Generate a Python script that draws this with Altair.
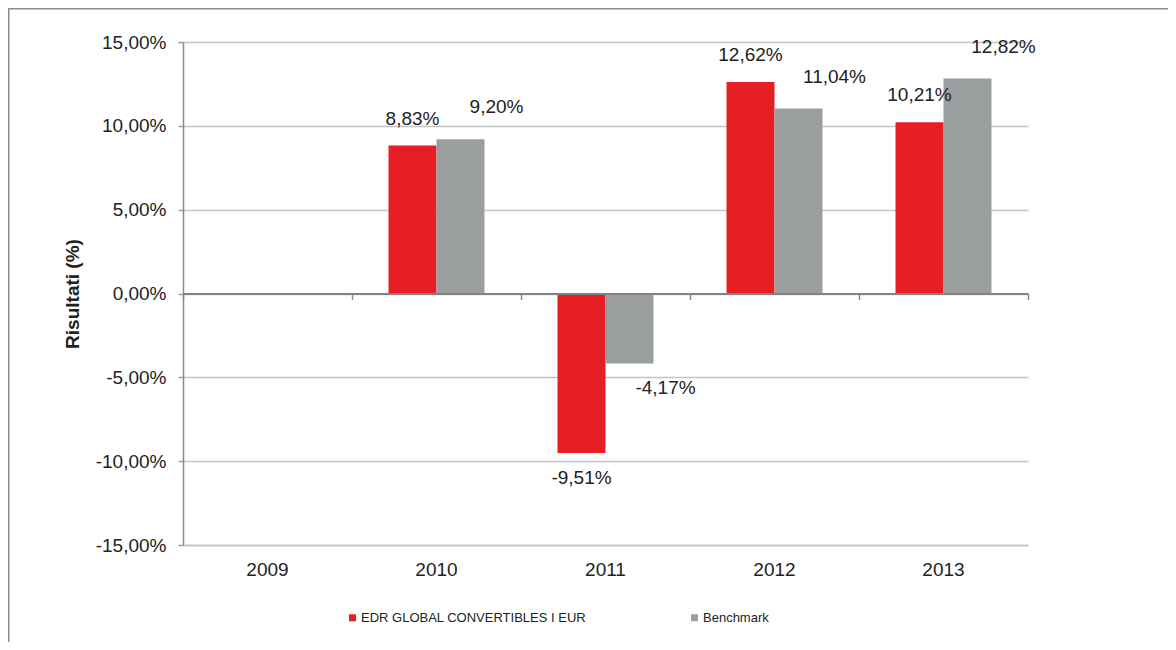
import altair as alt
import pandas as pd

years = ["2009", "2010", "2011", "2012", "2013"]
series = ["EDR GLOBAL CONVERTIBLES I EUR", "Benchmark"]
fund_values = [None, 8.83, -9.51, 12.62, 10.21]
bench_values = [None, 9.20, -4.17, 11.04, 12.82]
colors = ["#E81E25", "#9B9E9E"]
y_ticks = [-15, -10, -5, 0, 5, 10, 15]


def fmt(v):
    if v is None:
        return None
    return f"{v:.2f}".replace(".", ",") + "%"


rows = []
for yr, f, b in zip(years, fund_values, bench_values):
    rows.append({"year": yr, "series": series[0], "value": f, "label": fmt(f)})
    rows.append({"year": yr, "series": series[1], "value": b, "label": fmt(b)})
df = pd.DataFrame(rows)

W, H = 845, 503
FONT = "Liberation Sans"
TXT = "#222222"

x_scale = alt.Scale(domain=years, paddingInner=0.432, paddingOuter=0.216)
x_scale_flat = alt.Scale(domain=years, paddingInner=0, paddingOuter=0)
xo_scale = alt.Scale(domain=series)
y_scale = alt.Scale(domain=[-15, 15], nice=False, zero=False)

y_axis = alt.Axis(values=y_ticks, grid=True, gridColor="#c4c4c4", gridWidth=1.5,
                  domainColor="#8a8a8a", domainWidth=1.5, tickColor="#9a9a9a",
                  tickSize=5, tickWidth=1.5, labelFontSize=19, labelColor=TXT,
                  labelPadding=12,
                  labelExpr="(datum.value < 0 ? '-' : '') + replace(format(abs(datum.value), '.2f'), '.', ',') + '%'",
                  title="Risultati (%)", titleFontSize=19, titleFontWeight="bold",
                  titleColor=TXT, titleX=-111, titleY=H / 2, titleAngle=-90,
                  titleAlign="center", titleBaseline="middle")

base = alt.Chart(df)

bars = base.mark_bar(strokeWidth=0).encode(
    x=alt.X("year:N", scale=x_scale, sort=years,
            axis=alt.Axis(title=None, orient="bottom", ticks=False, labelFontSize=19,
                          labelColor=TXT, labelPadding=15, labelAngle=0,
                          domainColor="#c4c4c4", domainWidth=1.5, grid=False)),
    xOffset=alt.XOffset("series:N", scale=xo_scale, sort=series),
    y=alt.Y("value:Q", scale=y_scale, axis=y_axis),
    color=alt.Color("series:N", scale=alt.Scale(domain=series, range=colors), sort=series,
                    legend=alt.Legend(orient="none", legendX=163, legendY=569,
                                      direction="horizontal", title=None,
                                      symbolType="square", symbolSize=49,
                                      symbolStrokeWidth=0, labelFontSize=13,
                                      labelColor=TXT, columnPadding=101, labelOffset=2,
                                      labelLimit=0, padding=0)),
)

# zero line with category-boundary ticks (an x axis moved up to y=0)
zero_axis = base.mark_bar(opacity=0).encode(
    x=alt.X("year:N", scale=x_scale_flat, sort=years,
            axis=alt.Axis(title=None, orient="bottom", offset=-(H / 2), labels=False,
                          ticks=True, tickBand="extent", tickSize=6, tickColor="#8a8a8a",
                          tickWidth=1.5, domainColor="#808383", domainWidth=2, grid=False,
                          zindex=1)),
    y=alt.Y("value:Q", scale=y_scale),
)

fund_text = base.transform_filter(
    alt.datum.series == series[0]
).transform_filter("isValid(datum.value)").transform_calculate(
    ly="datum.value + (datum.value < 0 ? -1.5 : 1.6)"
).mark_text(fontSize=19, color=TXT, baseline="middle", font=FONT).encode(
    x=alt.X("year:N", scale=x_scale, sort=years, axis=None),
    xOffset=alt.XOffset("series:N", scale=xo_scale, sort=series),
    y=alt.Y("ly:Q", scale=y_scale),
    text="label:N",
)

bench_text = base.transform_filter(
    alt.datum.series == series[1]
).transform_filter("isValid(datum.value)").transform_calculate(
    ly="datum.value + (datum.value < 0 ? -1.45 : 1.9)"
).mark_text(fontSize=19, color=TXT, baseline="middle", dx=36, font=FONT).encode(
    x=alt.X("year:N", scale=x_scale, sort=years, axis=None),
    xOffset=alt.XOffset("series:N", scale=xo_scale, sort=series),
    y=alt.Y("ly:Q", scale=y_scale),
    text="label:N",
)

one = pd.DataFrame({"a": [0]})
frame_left = alt.Chart(one).mark_rule(color="#8c8c8c", strokeWidth=1.5).encode(
    x=alt.value(-174.25), y=alt.value(-33.5), y2=alt.value(H + 97)
)
frame_top = alt.Chart(one).mark_rule(color="#8c8c8c", strokeWidth=1.5).encode(
    x=alt.value(-175), x2=alt.value(W + 140), y=alt.value(-33.25)
)

chart = alt.layer(
    bars, zero_axis, fund_text, bench_text, frame_left, frame_top
).resolve_scale(x="independent").resolve_axis(x="independent").properties(
    width=W, height=H,
    autosize=alt.AutoSizeParams(type="none"),
    padding={"left": 175, "top": 34, "right": 140, "bottom": 97},
).configure(
    font=FONT
).configure_view(stroke=None).configure_axis(labelFont=FONT, titleFont=FONT)

chart.save("out.html", embed_options={"renderer": "svg", "actions": False})
